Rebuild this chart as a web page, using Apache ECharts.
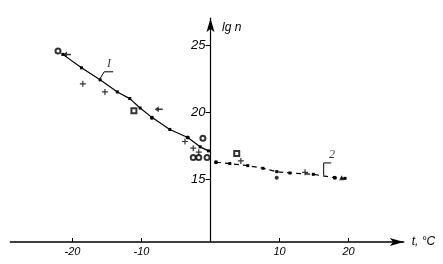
<!DOCTYPE html>
<html><head><meta charset="utf-8">
<script src="https://cdn.jsdelivr.net/npm/echarts@6/dist/echarts.min.js"></script>
<style>html,body{margin:0;padding:0;background:#fff}#c{width:443px;height:264px}</style>
</head><body><div id="c"></div>
<script>
// x tick labels and y tick labels
const xTicks = [-20, -10, 10, 20];
const yTicks = [15, 20, 25];
// curve I (solid)
const curve1 = [[-21.4,24.3],[-18.7,23.3],[-16.0,22.4],[-13.5,21.5],[-11.7,21.0],[-10.2,20.3],[-8.5,19.6],[-5.9,18.7],[-3.3,18.1],[-1.5,17.4],[-0.3,17.1]];
// curve 2 (dashed)
const curve2 = [[0.8,16.25],[2.8,16.15],[5.4,16.0],[7.6,15.8],[9.6,15.55],[11.5,15.45],[14.9,15.35],[18.0,15.1],[19.5,15.05]];
// experimental points
const circles = [[-22.1,24.55],[-1.1,18.05],[-2.5,16.6],[-1.7,16.6],[-0.5,16.6]];
const crosses = [[-18.5,22.1],[-15.3,21.5],[-3.7,17.8],[-2.5,17.3],[-1.7,17.0],[4.4,16.35],[13.7,15.5]];
const squares = [[-11.1,20.1],[3.8,16.9]];
const arrows = [[-20.8,24.3],[-7.5,20.2]];
const dots = [[-8.5,19.55],[-3.3,18.1],[0.8,16.25],[9.6,15.1],[18.0,15.1]];
const triangles = [[19.0,15.1]];
// curve labels and leaders
const leader1 = [[-16.0,22.5],[-15.4,23.0],[-14.1,23.0]];
const label1 = [[-14.7,23.6,'I']];
const leader2 = [[16.4,15.3],[16.4,16.2],[17.5,16.2]];
const label2 = [[17.6,16.8,'2']];

const font = 'Liberation Sans';
const black = '#000';
const X_MIN = -29, X_MAX = 28;
const GL = 10.4, GR = 39.3, W = 443;
const x0 = GL + (0 - X_MIN) / (X_MAX - X_MIN) * (W - GL - GR);
const chart = echarts.init(document.getElementById('c'));
chart.setOption({
  animation: false,
  grid: {left: GL, right: GR, top: 18.2, bottom: 22, outerBoundsMode: 'none', containLabel: false},
  xAxis: {
    type: 'value', min: X_MIN, max: X_MAX,
    name: 't, °C', nameLocation: 'end', nameGap: 8,
    nameTextStyle: {color: black, fontFamily: font, fontStyle: 'italic', fontSize: 12},
    axisLine: {onZero: false, lineStyle: {color: black, width: 1.6}, symbol: ['none','arrow'], symbolSize: [6, 14]},
    axisTick: {show: true, inside: true, length: 4, customValues: xTicks, lineStyle: {color: black}},
    axisLabel: {customValues: xTicks, color: black, fontFamily: font, fontStyle: 'italic', fontSize: 11, margin: 4},
    splitLine: {show: false}
  },
  yAxis: {
    type: 'value', min: 10.3, max: 27, position: 'left', offset: -(x0 - GL),
    axisLine: {onZero: false, lineStyle: {color: black, width: 1.2}, symbol: ['none','arrow'], symbolSize: [6, 14]},
    axisTick: {show: true, inside: false, length: 5, customValues: yTicks, lineStyle: {color: black}},
    axisLabel: {customValues: yTicks, color: black, fontFamily: font, fontStyle: 'italic', fontSize: 13, margin: 5},
    splitLine: {show: false}
  },
  graphic: [
    {type: 'text', left: 222, top: 22, style: {text: 'lg n', fill: black, font: 'italic 12px "Liberation Sans"'}}
  ],
  series: [
    {type: 'line', data: curve1, symbol: 'rect', symbolSize: 3, showSymbol: true,
     lineStyle: {color: black, width: 1.2}, itemStyle: {color: black}},
    {type: 'line', data: curve2, symbol: 'rect', symbolSize: 3, showSymbol: true,
     lineStyle: {color: black, width: 1.2, type: [5, 4]}, itemStyle: {color: black}},
    {type: 'scatter', data: circles, symbol: 'emptyCircle', symbolSize: 5,
     itemStyle: {color: black, borderColor: black, borderWidth: 1}},
    {type: 'scatter', data: crosses, symbol: 'path://M4,0h2v4h4v2h-4v4h-2v-4h-4v-2h4z', symbolSize: 6,
     itemStyle: {color: black}},
    {type: 'scatter', data: squares, symbol: 'emptyRect', symbolSize: 5,
     itemStyle: {color: black, borderColor: black, borderWidth: 1}},
    {type: 'scatter', data: arrows, symbol: 'path://M0,5L5,1L5,4L10,4L10,6L5,6L5,9Z', symbolSize: [8, 6],
     itemStyle: {color: black}},
    {type: 'scatter', data: dots, symbol: 'circle', symbolSize: 4, itemStyle: {color: black}},
    {type: 'scatter', data: triangles, symbol: 'triangle', symbolSize: 5, itemStyle: {color: black}},
    {type: 'line', data: leader1, symbol: 'none', lineStyle: {color: black, width: 1}},
    {type: 'line', data: leader2, symbol: 'none', lineStyle: {color: black, width: 1}},
    {type: 'scatter', data: label1.concat(label2), symbolSize: 0,
     label: {show: true, position: 'inside', formatter: p => p.data[2], color: black,
             fontFamily: 'Liberation Serif', fontStyle: 'italic', fontSize: 12}}
  ]
});
</script></body></html>
